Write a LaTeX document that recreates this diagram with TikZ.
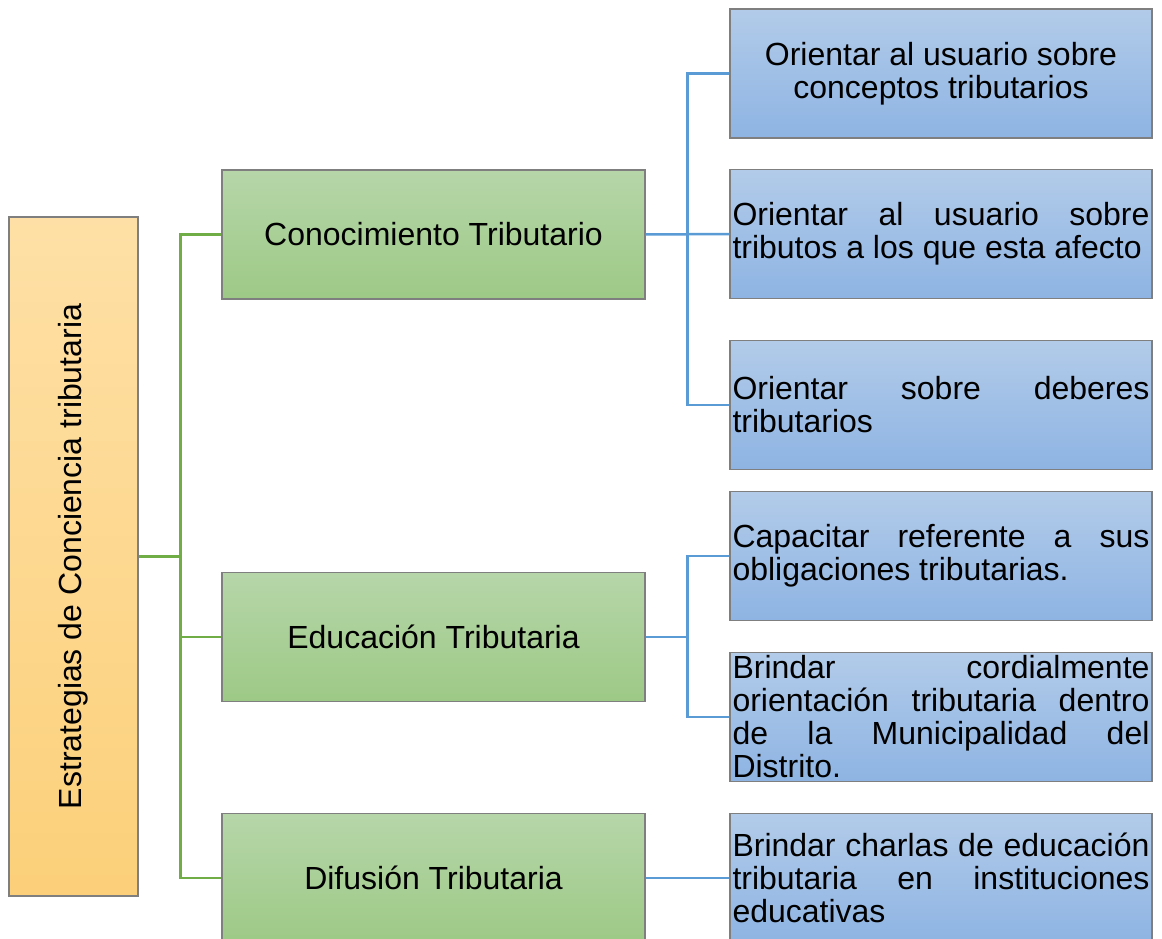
\documentclass[tikz,border=0pt]{standalone}
\usepackage{fontspec}
\setmainfont{Liberation Sans}
\usetikzlibrary{calc}
\definecolor{ytop}{HTML}{FEE0A6}
\definecolor{ybot}{HTML}{FCD07A}
\definecolor{gtop}{HTML}{B6D6A9}
\definecolor{gbot}{HTML}{9DC986}
\definecolor{btop}{HTML}{B2CBE9}
\definecolor{bbot}{HTML}{8EB4E3}
\definecolor{gline}{HTML}{70AD47}
\definecolor{bline}{HTML}{5B9BD5}
\definecolor{edge}{HTML}{7F7F7F}
\tikzset{
  boxbase/.style={draw=edge, line width=1.3pt, inner sep=0pt, font=\fontsize{32}{33}\selectfont},
  rootbox/.style={boxbase, top color=ytop, bottom color=ybot, minimum width=129pt, minimum height=679pt},
  greenbox/.style={boxbase, top color=gtop, bottom color=gbot, minimum width=423pt, minimum height=129pt, align=center},
  bluebox/.style={boxbase, top color=btop, bottom color=bbot, minimum width=422pt, minimum height=129pt},
  gconn/.style={draw=gline, line width=2.5pt},
  bconn/.style={draw=bline, line width=2.5pt},
}
\newcommand{\jline}[1]{\hbox to 417pt{#1}}
\begin{document}
\begin{tikzpicture}[x=1pt,y=-1pt]
\useasboundingbox (0,0) rectangle (1162,939);
\clip (0,0) rectangle (1162,939);
\fill[white] (0,0) rectangle (1162,939);
% root
\node[rootbox] (root) at (73.5,556.5) {\rotatebox{90}{Estrategias de Conciencia tributaria}};
% level 1
\node[greenbox] (c1) at (433.5,234.5) {Conocimiento Tributario};
\node[greenbox] (c2) at (433.5,637) {Educación Tributaria};
\node[greenbox] (c3) at (433.5,878) {Difusión Tributaria};
% level 2
\node[bluebox, align=center] (b1) at (941,73.5) {Orientar al usuario sobre\\conceptos tributarios};
\node[bluebox] (b2) at (941,234) {\vbox{\jline{Orientar\hfill al\hfill usuario\hfill sobre}\jline{tributos a los que esta afecto\hfill}}};
\node[bluebox] (b3) at (941,405) {\vbox{\jline{Orientar\hfill sobre\hfill deberes}\jline{tributarios\hfill}}};
\node[bluebox] (b4) at (941,556) {\vbox{\jline{Capacitar\hfill referente\hfill a\hfill sus}\jline{obligaciones tributarias.\hfill}}};
\node[bluebox] (b5) at (941,717) {\vbox{\jline{Brindar\hfill cordialmente}\jline{orientación\hfill tributaria\hfill dentro}\jline{de\hfill la\hfill Municipalidad\hfill del}\jline{Distrito.\hfill}}};
\node[bluebox] (b6) at (941,878) {\vbox{\jline{Brindar\hfill charlas\hfill de\hfill educación}\jline{tributaria\hfill en\hfill instituciones}\jline{educativas\hfill}}};
% green connectors
\coordinate (jg) at ($(root.east)+(42,0)$);
\draw[gconn] (root.east) -- (jg);
\draw[gconn] (jg) |- (c1.west);
\draw[gconn] (jg) |- (c2.west);
\draw[gconn] (jg) |- (c3.west);
% blue connectors
\coordinate (jb1) at ($(c1.east)+(42,0)$);
\coordinate (jb2) at ($(c2.east)+(42,0)$);
\draw[bconn] (c1.east) -- (b2.west);
\draw[bconn] (jb1) |- (b1.west);
\draw[bconn] (jb1) |- (b3.west);
\draw[bconn] (c2.east) -- (jb2);
\draw[bconn] (jb2) |- (b4.west);
\draw[bconn] (jb2) |- (b5.west);
\draw[bconn] (c3.east) -- (b6.west);
\end{tikzpicture}
\end{document}
